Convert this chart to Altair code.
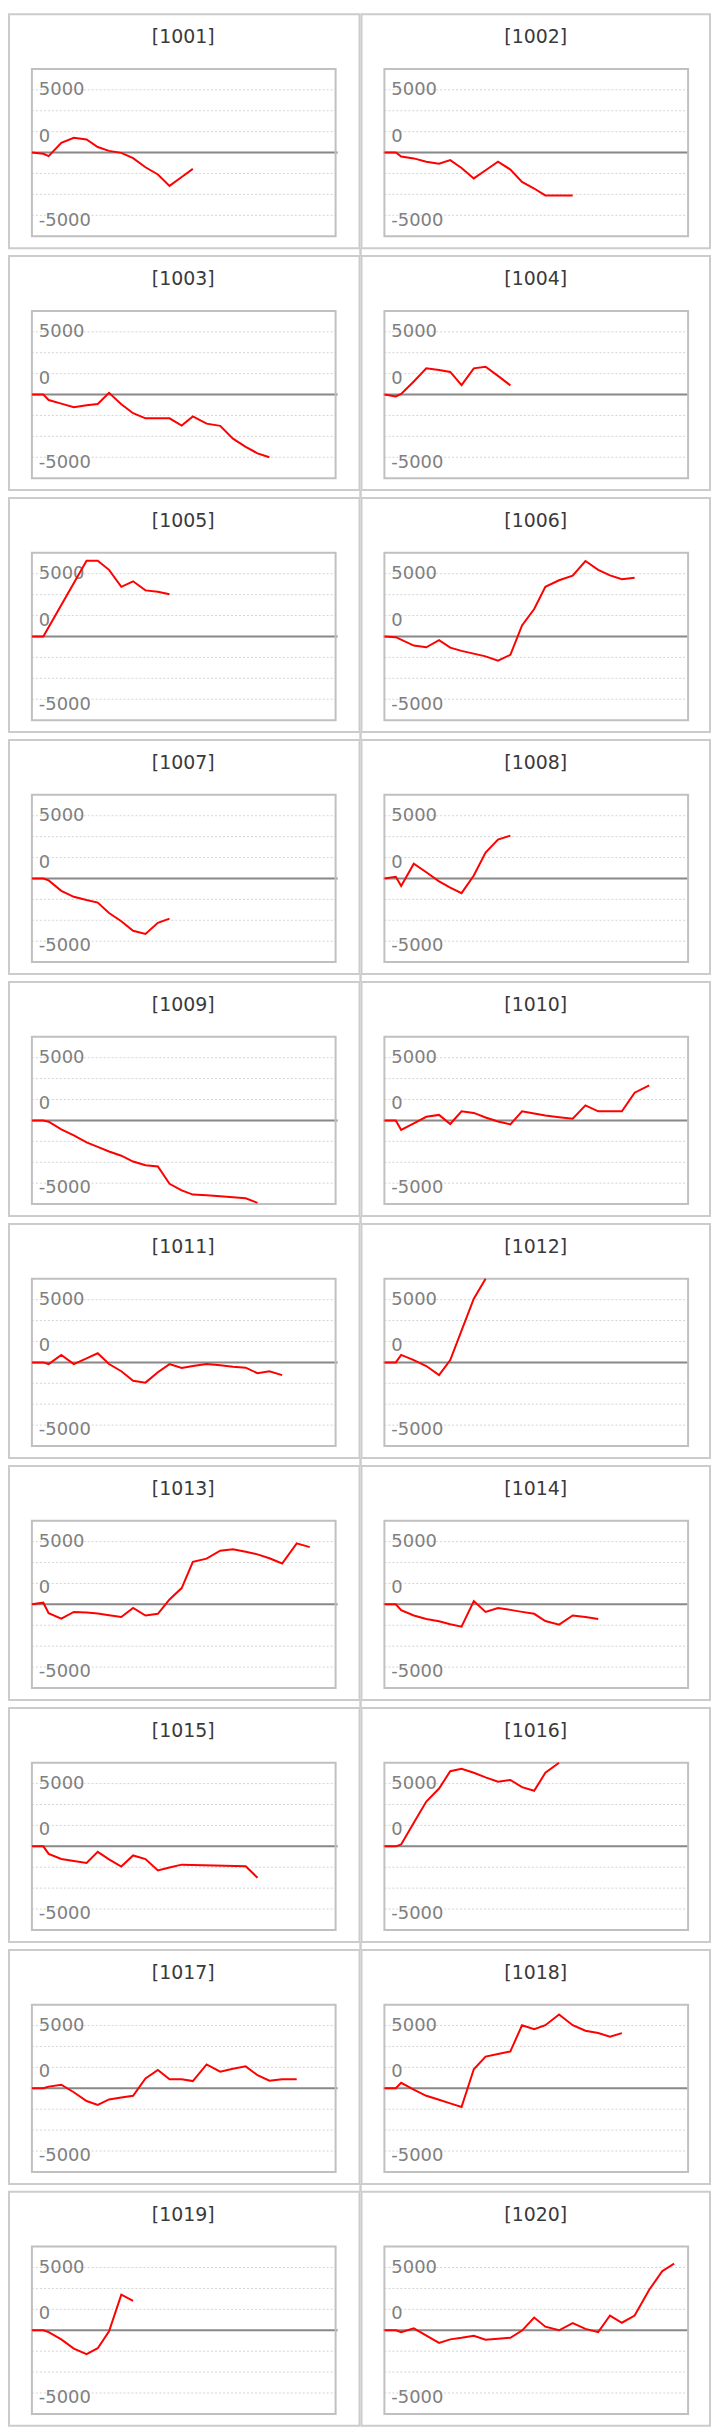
import altair as alt
import pandas as pd

# shared x positions (time steps) of the points
X_GRID = [0, 0.94, 1.38, 2.42, 3.45, 4.5, 5.42, 6.35, 7.36, 8.33, 9.35, 10.37, 11.33,
          12.33, 13.25, 14.38, 15.5, 16.55, 17.6, 18.57, 19.55, 20.6, 21.8, 22.87, 23.85]

ACCOUNTS = ["1001", "1002", "1003", "1004", "1005", "1006", "1007", "1008", "1009", "1010",
            "1011", "1012", "1013", "1014", "1015", "1016", "1017", "1018", "1019", "1020"]

V1001 = [0, -150, -430, 1170, 1760, 1560, 660, 200, -40, -660, -1760, -2620, -3980, -2930, -1950]
V1002 = [0, 0, -470, -700, -1090, -1330, -900, -1840, -3090, -2110, -1090, -2030, -3520, -4300, -5120, None, -5120]
V1003 = [0, 0, -660, -1090, -1520, -1290, -1130, 200, -1170, -2230, -2850, -2850, -2850, -3710, -2620, -3480, -3750, -5270, -6250, -7030, -7500]
V1004 = [0, -230, 80, 1560, 3130, 2930, 2700, 1130, 3130, 3320, 2230, 1090]
V1005 = [0, 0, None, None, None, 9060, 9060, 7970, 5940, 6600, 5510, 5350, 5040]
V1006 = [0, -80, None, -1090, -1290, -430, -1330, -1720, None, -2380, -2890, -2190, 1330, 3280, 5940, 6720, 7270, 9020, 7970, 7300, 6840, 7030]
V1007 = [0, 0, -230, -1480, -2190, -2580, -2890, -4140, -5120, -6250, -6640, -5310, -4800]
V1008 = [0, 200, -900, 1760, 740, -350, -1090, -1760, 350, 3090, 4650, 5120]
V1009 = [0, 0, -160, -1060, -1800, -2620, -3160, -3710, -4220, -4920, -5350, -5510, -7580, -8360, -8870, -8950, -9060, -9180, -9300, -9850]
V1010 = [0, 0, -1130, -350, 430, 660, -430, 1090, 900, 350, -120, -470, 1090, 820, 590, 390, 200, 1800, 1090, 1090, 1090, 3320, 4180]
V1011 = [0, 0, -200, 900, -200, 470, 1090, -200, -1060, -2190, -2420, -1170, -200, -660, -430, -200, -350, -510, -630, -1290, -1060, -1520]
V1012 = [0, 0, 900, 270, -430, -1520, 270, 3790, 7620, 10000]
V1013 = [0, 200, -1060, -1720, -900, -980, -1090, -1290, -1520, -430, -1330, -1130, 590, 1950, 5080, 5470, 6410, 6600, 6290, 5980, 5510, 4880, 7300, 6840]
V1014 = [0, 0, -700, -1330, -1760, -2030, -2380, -2660, 390, -900, -430, -660, -900, -1130, -1990, -2420, -1330, -1520, -1760]
V1015 = [0, 0, -900, -1520, -1760, -1990, -660, -1560, -2420, -1090, -1520, -2890, -2540, -2190, None, None, None, None, -2380, -3750]
V1016 = [0, 0, 230, 2810, 5350, 6910, 8980, 9260, 8790, 8240, 7730, 7930, 7070, 6640, 8790, 10000]
V1017 = [0, 0, 200, 430, -470, -1520, -1990, -1330, -1090, -900, 1170, 2190, 1090, 1090, 860, 2850, 1990, 2340, 2620, 1560, 900, 1090, 1090]
V1018 = [0, 0, 660, -160, -900, -1370, -1800, -2230, 2270, 3790, 4100, 4410, 7540, 7070, 7540, 8830, 7540, 6880, 6600, 6170, 6600]
V1019 = [0, 0, -230, -1090, -2190, -2850, -2150, -120, 4260, 3520]
V1020 = [0, 0, -230, 230, None, -1520, -1090, -900, -660, -1130, -1020, -900, -40, 1520, 430, 0, 860, 160, -230, 1760, 900, 1760, 4840, 7070, 7970]

SERIES = {
    "1001": V1001, "1002": V1002, "1003": V1003, "1004": V1004, "1005": V1005,
    "1006": V1006, "1007": V1007, "1008": V1008, "1009": V1009, "1010": V1010,
    "1011": V1011, "1012": V1012, "1013": V1013, "1014": V1014, "1015": V1015,
    "1016": V1016, "1017": V1017, "1018": V1018, "1019": V1019, "1020": V1020,
}

GRID_VALUES = [7500, 5000, 2500, -2500, -5000, -7500]
TICK_TEXT = ["5000", "0", "-5000"]
TICK_POS = [6870, 1310, -8730]

Y_DOMAIN = [-10000, 10000]
X_DOMAIN = [0, 25]

FONT = "DejaVu Sans"
ONE = pd.DataFrame({"a": [0]})


def panel(acc, width, left, last_row):
    vals = SERIES[acc]
    df = pd.DataFrame({"x": X_GRID[:len(vals)], "v": vals}).dropna()
    xs = alt.Scale(domain=X_DOMAIN, range=[23, 328], nice=False, zero=False)
    ys = alt.Scale(domain=Y_DOMAIN, range=[223, 55], nice=False, zero=False)

    grid = alt.Chart(pd.DataFrame({"g": GRID_VALUES})).mark_rule(
        color="#d4d4d4", strokeWidth=1, strokeDash=[2, 2]
    ).encode(y=alt.Y("g:Q", scale=ys, axis=None), x=alt.value(23), x2=alt.value(328))

    zero = alt.Chart(pd.DataFrame({"z": [0]})).mark_rule(
        color="#888888", strokeWidth=2
    ).encode(y=alt.Y("z:Q", scale=ys, axis=None), x=alt.value(22), x2=alt.value(330 if left else 328))

    box = alt.Chart(ONE).mark_rect(
        fillOpacity=0, stroke="#c0c0c0", strokeWidth=2
    ).encode(x=alt.value(23), x2=alt.value(328), y=alt.value(55), y2=alt.value(223))

    labels = alt.Chart(pd.DataFrame({"t": TICK_TEXT, "p": TICK_POS})).mark_text(
        align="left", baseline="alphabetic", fontSize=18, font=FONT, color="#808080"
    ).encode(x=alt.value(30), y=alt.Y("p:Q", scale=ys, axis=None), text="t:N")

    line = alt.Chart(df).mark_line(color="#ff0000", strokeWidth=2).encode(
        x=alt.X("x:Q", scale=xs, axis=None),
        y=alt.Y("v:Q", scale=ys, axis=None),
    )

    title = alt.Chart(pd.DataFrame({"t": ["[" + acc + "]"]})).mark_text(
        align="center", baseline="alphabetic", fontSize=19, font=FONT, color="#3a3a3a"
    ).encode(x=alt.value(175), y=alt.value(29), text="t:N")

    layers = [grid, zero, box, labels, line, title]
    if not last_row:
        gap = alt.Chart(ONE).mark_rule(color="#cccccc", strokeWidth=2).encode(
            x=alt.value(width + 1 if left else -1), y=alt.value(235), y2=alt.value(243)
        )
        layers.append(gap)

    return alt.layer(*layers).properties(width=width, height=235)


n = len(ACCOUNTS)
panels = []
for i, acc in enumerate(ACCOUNTS):
    left = i % 2 == 0
    last = i >= n - 2
    panels.append(panel(acc, 352 if left else 350, left, last))

chart = alt.concat(
    *panels, columns=2, spacing={"row": 8, "column": 2}, bounds="flush"
).properties(padding=0).configure_view(stroke="#cccccc", strokeWidth=2)

chart.save("out.html", embed_options={"renderer": "svg", "actions": False})
